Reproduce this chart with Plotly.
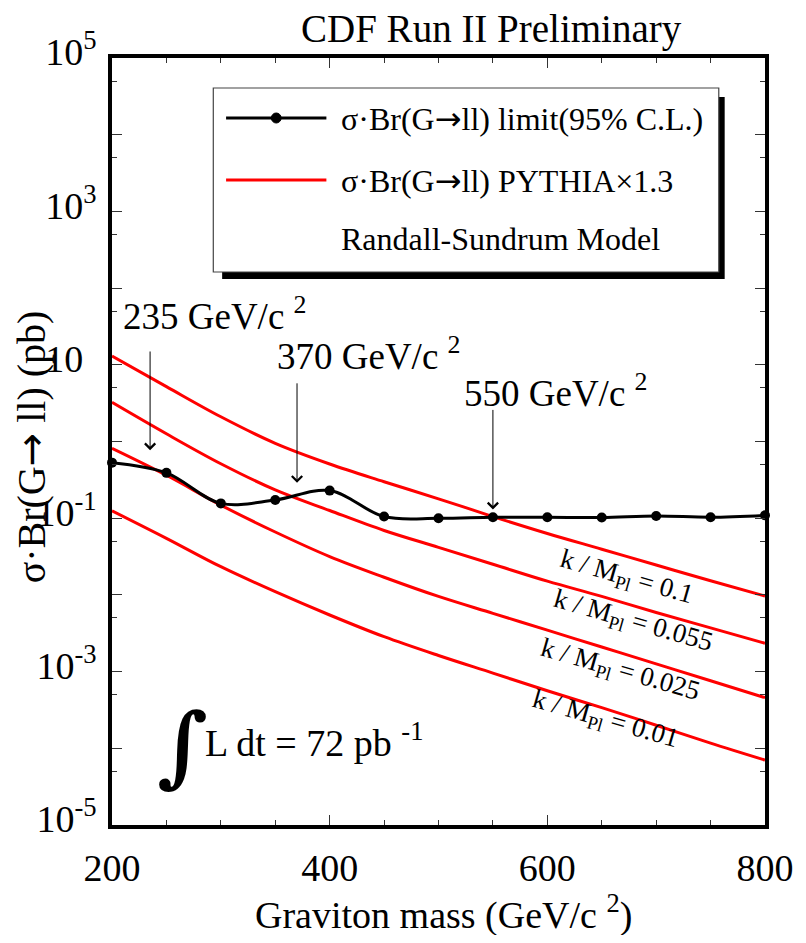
import numpy as np
import plotly.graph_objects as go

# graviton mass (GeV/c^2)
mass = [200, 250, 300, 350, 400, 450, 500, 550, 600, 650, 700, 750, 800]

# 95% C.L. limit on sigma*Br(G->ll) (pb)
limit_95 = [0.53, 0.39, 0.156, 0.173, 0.229, 0.105, 0.0998, 0.103, 0.103, 0.102, 0.107, 0.103, 0.109]

# RS graviton sigma*Br, PYTHIA x 1.3 (pb), one list per k/M_Pl
k_labels = ['0.1', '0.055', '0.025', '0.01']
rs_k0100 = [13.0, 5.19, 2.10, 0.946, 0.509, 0.299, 0.179, 0.105, 0.0632, 0.0394, 0.0245, 0.0153, 0.00968]
rs_k0055 = [3.24, 1.26, 0.513, 0.234, 0.126, 0.0692, 0.0417, 0.0251, 0.0151, 0.00955, 0.00589, 0.00372, 0.00234]
rs_k0025 = [0.815, 0.363, 0.148, 0.0661, 0.0316, 0.0170, 0.00955, 0.00575, 0.00347, 0.00209, 0.00126, 0.000759, 0.000457]
rs_k0010 = [0.125, 0.0547, 0.0233, 0.0110, 0.00547, 0.00285, 0.00162, 0.000955, 0.000562, 0.000339, 0.000200, 0.000117, 0.0000703]

# mass limits marked with arrows
arrow_mass = [235, 370, 550]
arrow_tip = [0.77, 0.29, 0.13]
arrow_tail = [15.6, 6.0, 2.7]

x_ticks = [200, 400, 600, 800]
x_minor = [250, 300, 350, 450, 500, 550, 650, 700, 750]
y_exp = [-5, -4, -3, -2, -1, 0, 1, 2, 3, 4, 5]
y_ticktext = ['10<sup>-5</sup>', '', '10<sup>-3</sup>', '', '10<sup>-1</sup>', '',
              '10<sup>\u2002</sup>', '', '10<sup>3</sup>', '', '10<sup>5</sup>']

#screen layout; the page body puts the figure 8px in from the top-left corner
OFF = 8
W, H = 806 - OFF, 943 - 2 * OFF
L, R, T, B = 112, 776, 58, 825
FONT = 'Liberation Serif'
ARROW = '<span style="font-family:DejaVu Sans">\u2192</span>'

def px(x):
	return (x - L) / (R - L)

def py(y):
	return (B - y) / (B - T)

fig = go.Figure()

for vals in [rs_k0100, rs_k0055, rs_k0025, rs_k0010]:
	fig.add_trace(go.Scatter(x=mass, y=vals, mode='lines',
		line=dict(color='#ff0000', width=3, shape='spline')))

fig.add_trace(go.Scatter(x=mass, y=limit_95, mode='lines+markers', cliponaxis=False,
	line=dict(color='black', width=3, shape='spline'),
	marker=dict(color='black', size=10)))

# arrows pointing to the crossing masses
for m, tip, tail in zip(arrow_mass, arrow_tip, arrow_tail):
	fig.add_annotation(x=m, y=np.log10(tip), ax=m, ay=np.log10(tail),
		xref='x', yref='y', axref='x', ayref='y', text='', showarrow=True,
		arrowhead=4, arrowsize=2, arrowwidth=1, arrowcolor='black')

def text(s, x, base, size, anchor='left', angle=0):
	#place a text by its left/center x and its baseline (screen pixels)
	fig.add_annotation(text=s, x=px(x), y=py(base - 0.34 * size), xref='paper', yref='paper',
		xanchor=anchor, yanchor='middle', showarrow=False, textangle=angle, borderpad=0,
		font=dict(family=FONT, size=size, color='black'))

# mass labels
text('235 GeV/c <sup>2</sup>', 122, 326, 37)
text('370 GeV/c <sup>2</sup>', 279, 366, 37)
text('550 GeV/c <sup>2</sup>', 469, 403, 37)

# coupling labels along curves
for lab, (cx, cy) in zip(k_labels, [(635, 578), (642, 622), (629, 671), (613, 720)]):
	fig.add_annotation(text=f'k / M<sub>Pl</sub> = {lab}', x=px(cx), y=py(cy),
		xref='paper', yref='paper', xanchor='center', yanchor='middle', showarrow=False,
		textangle=16, font=dict(family=FONT, size=27, color='black'))

# luminosity
fig.add_annotation(text='\u222b', x=px(156), y=py(799), xref='paper', yref='paper',
	showarrow=False, font=dict(family='DejaVu Serif', size=88, color='black', weight='bold'))
text('L dt = 72 pb <sup>-1</sup>', 206, 753, 38)

# titles
text('CDF Run II Preliminary', 498, 42, 39, anchor='center')
text('Graviton mass (GeV/c <sup>2</sup>)', 449, 925, 38, anchor='center')
fig.add_annotation(text=f'\u03c3\u00b7Br(G{ARROW} ll) (pb)', x=px(30), y=py(447),
	xref='paper', yref='paper', xanchor='center', yanchor='middle', showarrow=False,
	textangle=-90, font=dict(family=FONT, size=40, color='black'))

# legend box with shadow
fig.add_shape(type='rect', xref='paper', yref='paper', x0=px(224), x1=px(735), y0=py(279), y1=py(97),
	fillcolor='black', line=dict(width=0))
fig.add_shape(type='rect', xref='paper', yref='paper', x0=px(215), x1=px(729), y0=py(272), y1=py(88),
	fillcolor='white', line=dict(color='#444', width=1.2))
fig.add_shape(type='line', xref='paper', yref='paper', x0=px(228), x1=px(330), y0=py(118), y1=py(118),
	line=dict(color='black', width=3))
fig.add_shape(type='circle', xref='paper', yref='paper', x0=px(274), x1=px(284), y0=py(123), y1=py(113),
	fillcolor='black', line=dict(color='black', width=1))
fig.add_shape(type='line', xref='paper', yref='paper', x0=px(228), x1=px(330), y0=py(180), y1=py(180),
	line=dict(color='#ff0000', width=3))
text(f'\u03c3\u00b7Br(G{ARROW}ll) limit(95% C.L.)', 344, 130, 32)
text(f'\u03c3\u00b7Br(G{ARROW}ll) PYTHIA\u00d71.3', 344, 192, 32)
text('Randall-Sundrum Model', 344, 250, 32)

tick_font = dict(family=FONT, size=38, color='black')
fig.update_xaxes(range=[200, 800], showgrid=False, zeroline=False,
	showline=True, linewidth=3.5, linecolor='black', mirror='ticks',
	ticks='inside', tickvals=x_ticks, ticklen=10, tickwidth=1.2, tickcolor='#333',
	minor=dict(tickvals=x_minor, ticks='inside', ticklen=5, tickwidth=1.2, tickcolor='#333'),
	tickfont=tick_font, ticklabelstandoff=7)
fig.update_yaxes(type='log', range=[-5, 5], showgrid=False, zeroline=False,
	showline=True, linewidth=3.5, linecolor='black', mirror='ticks',
	ticks='inside', tickvals=[10.0 ** e for e in y_exp], ticktext=y_ticktext,
	ticklen=10, tickwidth=1.2, tickcolor='#333',
	minor=dict(tickvals=[5 * 10.0 ** e for e in y_exp[:-1]], ticks='inside', ticklen=5,
		tickwidth=1.2, tickcolor='#333'),
	tickfont=tick_font, ticklabelstandoff=4, ticklabelshift=-6)

fig.update_layout(width=W, height=H, showlegend=False,
	paper_bgcolor='white', plot_bgcolor='white',
	margin=dict(l=L - OFF, r=W - (R - OFF), t=T - OFF, b=H - (B - OFF), pad=0))

fig.write_html('out.html')
